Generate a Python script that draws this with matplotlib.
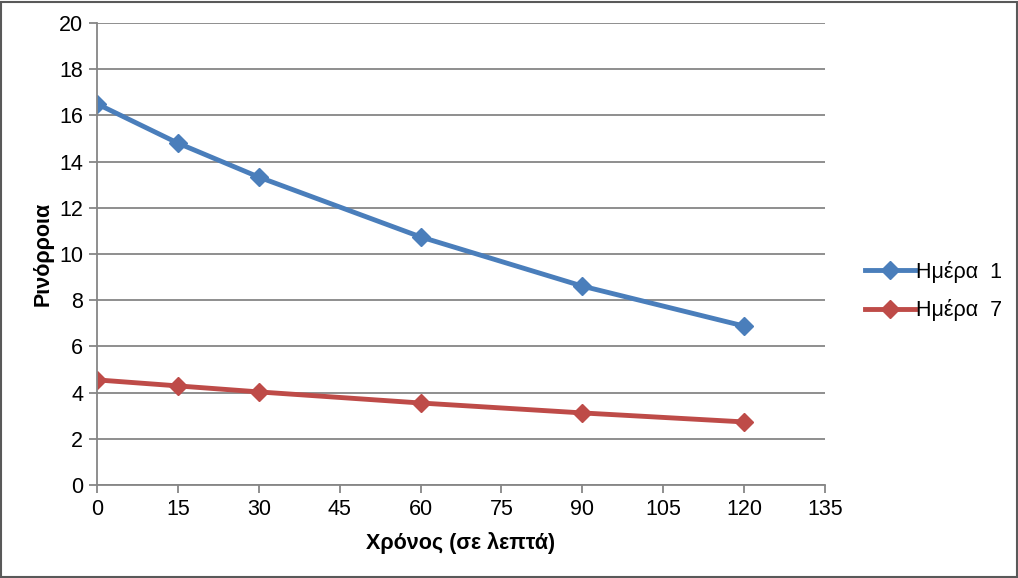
import matplotlib
matplotlib.use("Agg")
import matplotlib.pyplot as plt
from matplotlib.patches import Rectangle

plt.rcParams['font.family'] = ['Liberation Sans', 'DejaVu Sans']

time_min = [0, 15, 30, 60, 90, 120]
day1 = [16.5, 14.8, 13.33, 10.74, 8.61, 6.88]
day7 = [4.55, 4.29, 4.03, 3.55, 3.12, 2.73]
series_labels = ['Ημέρα  1', 'Ημέρα  7']
xlabel = 'Χρόνος (σε λεπτά)'
ylabel = 'Ρινόρροια'

W, H = 1018, 578
fig = plt.figure(figsize=(W/100, H/100), dpi=100)
ax = fig.add_axes([97/W, 1-485/H, (825-97)/W, (485-23)/H])

blue = '#4a7ebb'
red = '#be4b48'
ax.plot(time_min, day1, color=blue, lw=3.5, marker='D', ms=9, label=series_labels[0])
ax.plot(time_min, day7, color=red, lw=3.5, marker='D', ms=9, label=series_labels[1])

ax.set_xlim(0, 135)
ax.set_ylim(0, 20)
ax.set_xticks(range(0, 136, 15))
ax.set_yticks(range(0, 21, 2))
ax.grid(axis='y', color='#868686', lw=1.3)
ax.set_axisbelow(True)
for s in ['top', 'right']:
    ax.spines[s].set_visible(False)
for s in ['left', 'bottom']:
    ax.spines[s].set_color('#868686')
    ax.spines[s].set_linewidth(1.3)
ax.tick_params(axis='both', direction='out', length=6, color='#868686', width=1.3,
               labelsize=15.5, pad=4)
ax.set_xlabel(xlabel, fontsize=15.5, fontweight='bold', labelpad=9)
ax.set_ylabel(ylabel, fontsize=15.5, fontweight='bold', labelpad=4)

leg = ax.legend(loc='center left', bbox_to_anchor=(846/W, 1-291/H), bbox_transform=fig.transFigure,
                frameon=False, fontsize=15.5, handlelength=2.3, labelspacing=0.75,
                handletextpad=0.05)

fig.patches.append(Rectangle((1/W, 1/H), 1-2.5/W, 1-2.5/H, transform=fig.transFigure,
                             fill=False, edgecolor='#595959', lw=1.5))
fig.savefig('out.png', dpi=100)
